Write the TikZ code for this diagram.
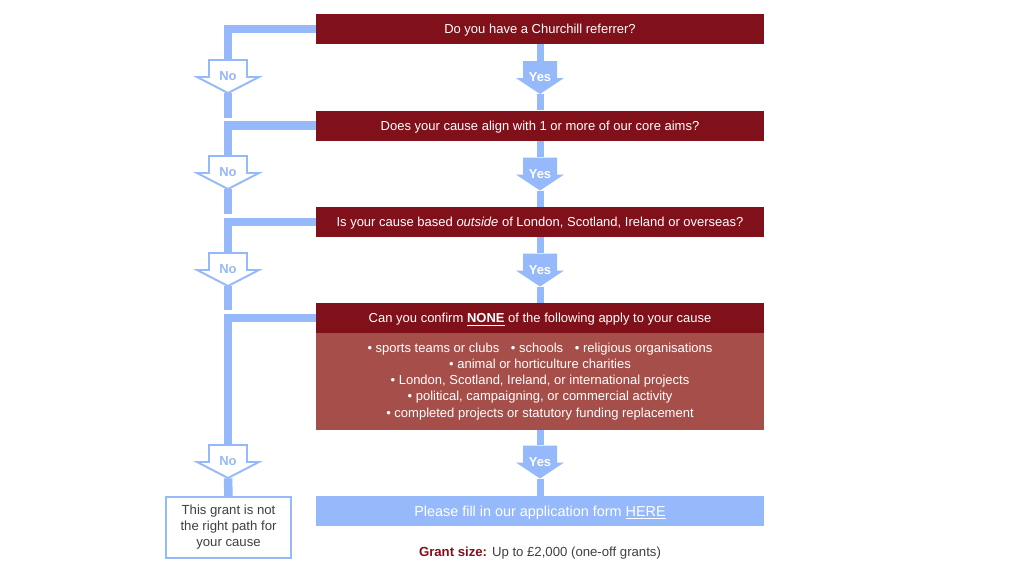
\documentclass[tikz,border=0pt]{standalone}
\usepackage{fontspec}
\setmainfont{Liberation Sans}
\usetikzlibrary{calc}

\definecolor{askred}{RGB}{128,17,26}
\definecolor{listred}{RGB}{166,79,74}
\definecolor{paleblue}{RGB}{149,185,250}
\definecolor{textgrey}{RGB}{64,64,64}

\tikzset{
  question/.style={fill=askred, text=white, minimum width=8.96cm, minimum height=0.6cm, inner sep=0pt, text height=6.3pt, text depth=1pt, font=\fontsize{7.4}{9}\selectfont},
  listbox/.style={fill=listred, text=white, minimum width=8.96cm, minimum height=1.93cm, inner sep=0pt, align=center, font=\fontsize{7.4}{9.2}\selectfont},
  formbox/.style={fill=paleblue, text=white, minimum width=8.96cm, minimum height=0.6cm, inner sep=0pt, text height=6.9pt, text depth=1pt, font=\fontsize{8.2}{10}\selectfont},
  endbox/.style={draw=paleblue, line width=1.1pt, fill=white, text=textgrey, minimum width=2.5cm, minimum height=1.22cm, inner sep=0pt, align=center, font=\fontsize{7.5}{9.1}\selectfont},
  yesline/.style={draw=paleblue, line width=0.14cm},
  noline/.style={draw=paleblue, line width=0.17cm},
  arrowlabel/.style={inner sep=0pt, minimum height=0.66cm, font=\bfseries\fontsize{7.4}{9}\selectfont},
  yesarrow/.style={fill=paleblue},
  noarrow/.style={draw=paleblue, fill=white, line width=1.1pt},
}

% name, centre, half shaft, half head, style, label
\newcommand{\blockarrow}[6]{%
  \path[#5] ($(#2)+(-#3,-16.5)$) -- ($(#2)+(#3,-16.5)$) -- ($(#2)+(#3,0.5)$) -- ($(#2)+(#4,0.5)$)
    -- ($(#2)+(0,16.5)$) -- ($(#2)+(-#4,0.5)$) -- ($(#2)+(-#3,0.5)$) -- cycle;
  \node[arrowlabel] (#1) at (#2) {#6};
}

\begin{document}
\begin{tikzpicture}[x=0.02cm, y=-0.02cm]
\useasboundingbox (0,0) rectangle (1024,576);

\node[question] (q1) at (540,29) {Do you have a Churchill referrer?};
\node[question] (q2) at (540,125.5) {Does your cause align with 1 or more of our core aims?};
\node[question] (q3) at (540,222) {Is your cause based \textit{outside} of London, Scotland, Ireland or overseas?};
\node[question] (q4) at (540,318) {Can you confirm \underline{\textbf{NONE}} of the following apply to your cause};
\node[listbox, anchor=north] (list) at ($(q4.south)+(0,-0.5)$) {\textbullet\ sports teams or clubs\hspace{0.9em}\textbullet\ schools\hspace{0.9em}\textbullet\ religious organisations\\
  \textbullet\ animal or horticulture charities\\
  \textbullet\ London, Scotland, Ireland, or international projects\\
  \textbullet\ political, campaigning, or commercial activity\\
  \textbullet\ completed projects or statutory funding replacement};
\node[formbox] (form) at (540,511) {Please fill in our application form \underline{HERE}};
\node[endbox] (stop) at (228.5,527.5) {This grant is not\\the right path for\\your cause};
\node[text=textgrey, font=\fontsize{7.5}{9}\selectfont] (size) at (540,553.5) {\textcolor{askred}{\textbf{Grant size:}} Up to £2,000 (one-off grants)};

\blockarrow{ya1}{540,77.5}{17}{24}{yesarrow}{\textcolor{white}{Yes}}
\blockarrow{ya2}{540,174}{17}{24}{yesarrow}{\textcolor{white}{Yes}}
\blockarrow{ya3}{540,270}{17}{24}{yesarrow}{\textcolor{white}{Yes}}
\blockarrow{ya4}{540,462}{17}{24}{yesarrow}{\textcolor{white}{Yes}}

\blockarrow{na1}{228,76.5}{19}{31}{noarrow}{\textcolor{paleblue}{No}}
\blockarrow{na2}{228,172.5}{19}{31}{noarrow}{\textcolor{paleblue}{No}}
\blockarrow{na3}{228,269.5}{19}{31}{noarrow}{\textcolor{paleblue}{No}}
\blockarrow{na4}{228,461.5}{19}{31}{noarrow}{\textcolor{paleblue}{No}}

\path[yesline] (q1.south) -- (ya1.north);
\path[yesline] (ya1.south) -- (q2.north);
\path[yesline] (q2.south) -- (ya2.north);
\path[yesline] (ya2.south) -- (q3.north);
\path[yesline] (q3.south) -- (ya3.north);
\path[yesline] (ya3.south) -- (q4.north);
\path[yesline] (list.south) -- (ya4.north);
\path[yesline] (ya4.south) -- (form.north);

\path[noline] (q1.west) -| (na1.north);
\path[noline] (na1.south) -- ($(q2.west -| na1.south)+(0,-8)$);
\path[noline] (q2.west) -| (na2.north);
\path[noline] (na2.south) -- ($(q3.west -| na2.south)+(0,-8)$);
\path[noline] (q3.west) -| (na3.north);
\path[noline] (na3.south) -- ($(q4.west -| na3.south)+(0,-8)$);
\path[noline] (q4.west) -| (na4.north);
\path[noline] (na4.south) -- (stop.north);
\end{tikzpicture}
\end{document}
